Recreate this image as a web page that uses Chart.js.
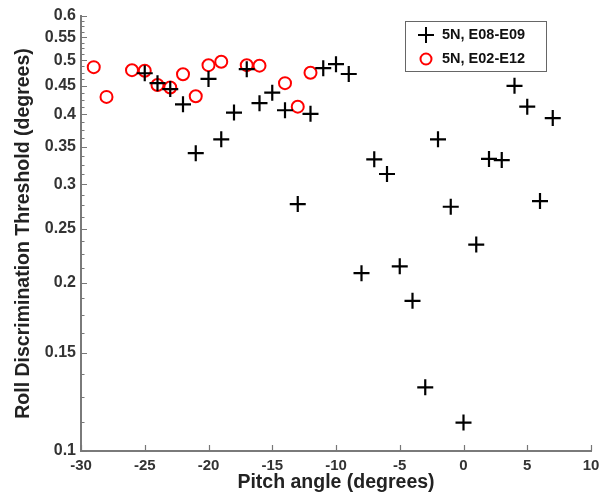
<!DOCTYPE html>
<html>
<head>
<meta charset="utf-8">
<script src="https://cdn.jsdelivr.net/npm/chart.js@4.4.0/dist/chart.umd.min.js"></script>
<style>
  body { margin: 0; background: #fff; }
</style>
</head>
<body>
<canvas id="chart1" width="608" height="494"></canvas>
<script>
// datos
var pitchE08 = [-25, -24, -23, -22, -21, -20, -19, -18, -17, -16, -15, -14, -13, -12, -11, -10, -9,
                -8, -7, -6, -5, -4, -3, -2, -1, 0, 1, 2, 3, 4, 5, 6, 7];
var thrE08 = [0.474, 0.455, 0.444, 0.417, 0.341, 0.463, 0.361, 0.403, 0.482, 0.419, 0.4375, 0.407, 0.2765, 0.401, 0.484, 0.492, 0.4725,
              0.208, 0.3325, 0.313, 0.214, 0.1856, 0.130, 0.361, 0.2735, 0.1124, 0.234, 0.333, 0.3315, 0.450, 0.413, 0.280, 0.394];
var pitchE02 = [-29, -28, -26, -25, -24, -23, -22, -21, -20, -19, -17, -16, -14, -13, -12];
var thrE02 = [0.486, 0.430, 0.480, 0.479, 0.4515, 0.447, 0.472, 0.431, 0.490, 0.497, 0.490, 0.489, 0.455, 0.413, 0.475];
var yTicks = [0.1, 0.15, 0.2, 0.25, 0.3, 0.35, 0.4, 0.45, 0.5, 0.55, 0.6];
var xTicks = [-30, -25, -20, -15, -10, -5, 0, 5, 10];
var labels = ['5N, E08-E09', '5N, E02-E12'];

function toPoints(xs, ys) {
  return xs.map(function (x, i) { return { x: x, y: ys[i] }; });
}

// ticks hacia adentro
var innerTicks = {
  id: 'innerTicks',
  beforeDatasetsDraw: function (chart) {
    var ctx = chart.ctx;
    var a = chart.chartArea;
    var xs = chart.scales.x, ys = chart.scales.y;
    ctx.save();
    ctx.strokeStyle = '#777';
    ctx.lineWidth = 1.2;
    ctx.beginPath();
    xTicks.forEach(function (v) {
      var px = Math.round(xs.getPixelForValue(v)) + 0.5;
      ctx.moveTo(px, a.bottom);
      ctx.lineTo(px, a.bottom - 6);
    });
    for (var k = 0; k <= 40; k++) {
      var v = 0.1 + k * 0.0125;
      var py = Math.round(ys.getPixelForValue(v)) + 0.5;
      var major = k % 4 === 0;
      ctx.moveTo(a.left, py);
      ctx.lineTo(a.left + (major ? 6 : 3.5), py);
    }
    ctx.stroke();
    ctx.restore();
  }
};

// leyenda dentro del area
var boxLegend = {
  id: 'boxLegend',
  afterDraw: function (chart) {
    var ctx = chart.ctx;
    ctx.save();
    ctx.fillStyle = '#fff';
    ctx.fillRect(405, 21, 141, 50);
    ctx.strokeStyle = '#666';
    ctx.lineWidth = 1;
    ctx.strokeRect(405.5, 21.5, 141, 50);
    // cruz
    ctx.strokeStyle = '#000';
    ctx.lineWidth = 2;
    ctx.beginPath();
    ctx.moveTo(418, 35); ctx.lineTo(434, 35);
    ctx.moveTo(426, 27); ctx.lineTo(426, 43);
    ctx.stroke();
    // circulo
    ctx.strokeStyle = '#ff0000';
    ctx.beginPath();
    ctx.arc(426, 59, 5.5, 0, Math.PI * 2);
    ctx.stroke();
    ctx.fillStyle = '#111';
    ctx.font = 'bold 14.5px "Liberation Sans", Arial, sans-serif';
    ctx.textBaseline = 'middle';
    ctx.fillText(labels[0], 442, 35);
    ctx.fillText(labels[1], 442, 59);
    ctx.restore();
  }
};

var ctx1 = document.getElementById('chart1').getContext('2d');
var chart1 = new Chart(ctx1, {
  type: 'scatter',
  data: {
    datasets: [{
      label: labels[0],
      data: toPoints(pitchE08, thrE08),
      pointStyle: 'cross',
      pointRadius: 8,
      pointHoverRadius: 8,
      borderColor: '#000',
      backgroundColor: '#000',
      pointBorderWidth: 2.2
    }, {
      label: labels[1],
      data: toPoints(pitchE02, thrE02),
      pointStyle: 'circle',
      pointRadius: 6,
      pointHoverRadius: 6,
      borderColor: '#ff0000',
      backgroundColor: 'rgba(0,0,0,0)',
      pointBorderWidth: 2
    }]
  },
  options: {
    responsive: false,
    animation: false,
    layout: { padding: { left: 0, top: 16, right: 17, bottom: 0 } },
    plugins: {
      legend: { display: false },
      tooltip: { enabled: false }
    },
    scales: {
      x: {
        type: 'linear',
        min: -30,
        max: 10,
        afterBuildTicks: function (s) { s.ticks = xTicks.map(function (v) { return { value: v }; }); },
        afterFit: function (s) { s.height = 43; },
        grid: { display: false, drawTicks: false },
        border: { display: true, color: '#7a7a7a', width: 2 },
        ticks: {
          padding: 6,
          color: '#333',
          font: { family: '"Liberation Sans", Arial, sans-serif', size: 15, weight: 'bold' }
        },
        title: {
          display: true,
          text: 'Pitch angle (degrees)',
          color: '#222',
          padding: { top: 0, bottom: 0 },
          font: { family: '"Liberation Sans", Arial, sans-serif', size: 19.5, weight: 'bold' }
        }
      },
      y: {
        type: 'logarithmic',
        min: 0.1,
        max: 0.6,
        afterBuildTicks: function (s) { s.ticks = yTicks.map(function (v) { return { value: v }; }); },
        afterFit: function (s) { s.width = 81; },
        grid: { display: false, drawTicks: false },
        border: { display: true, color: '#7a7a7a', width: 2 },
        ticks: {
          padding: 5,
          color: '#333',
          font: { family: '"Liberation Sans", Arial, sans-serif', size: 16, weight: 'bold' },
          callback: function (value) { return String(value); }
        },
        title: {
          display: true,
          text: 'Roll Discrimination Threshold (degrees)',
          color: '#222',
          padding: { top: 12, bottom: 0 },
          font: { family: '"Liberation Sans", Arial, sans-serif', size: 19.5, weight: 'bold' }
        }
      }
    }
  },
  plugins: [innerTicks, boxLegend]
});
</script>
</body>
</html>
